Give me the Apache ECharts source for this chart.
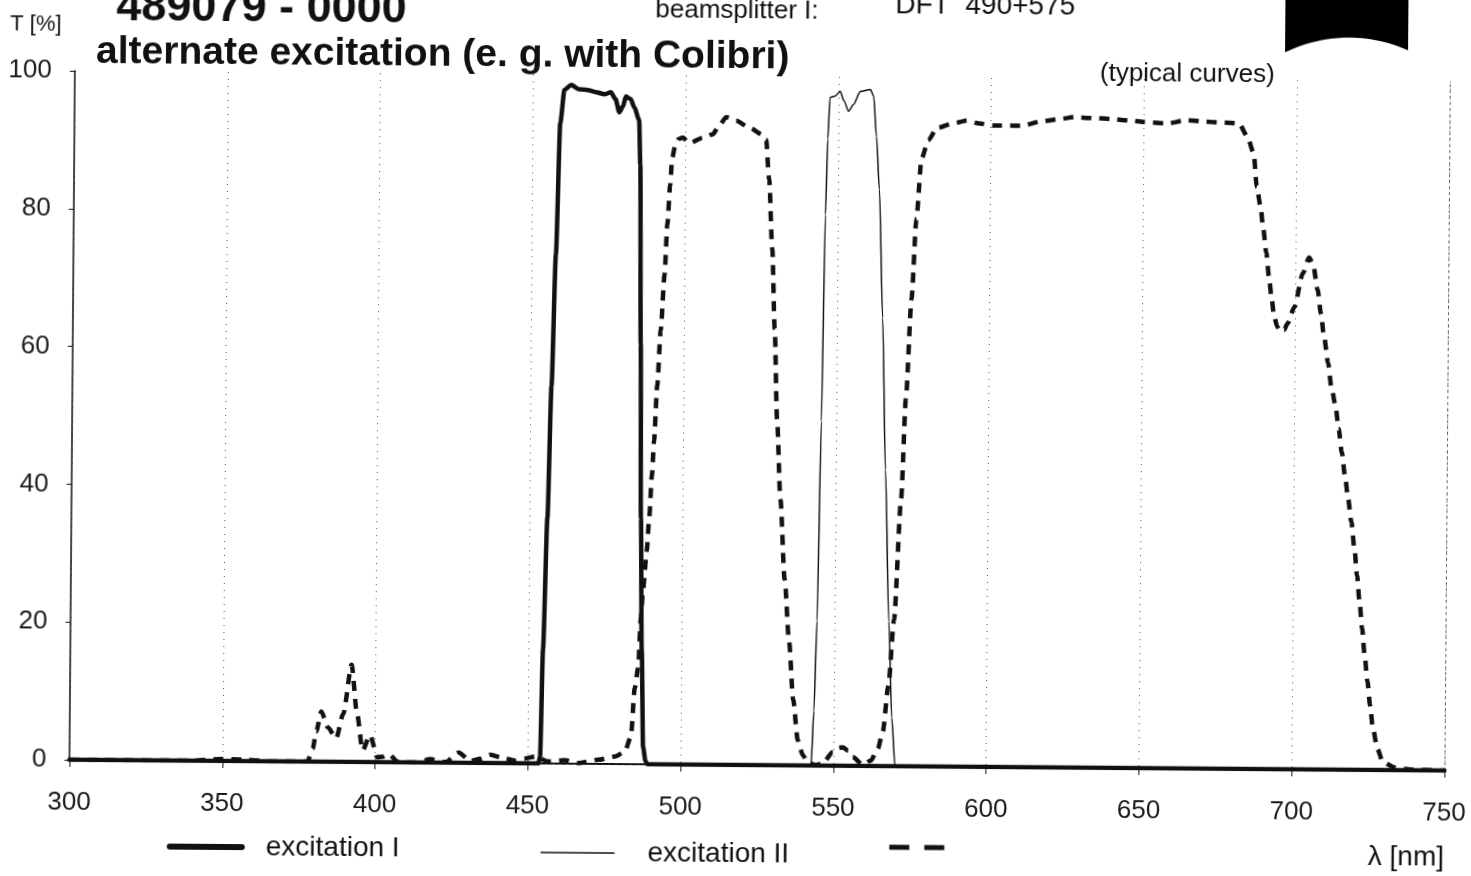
<!DOCTYPE html>
<html>
<head>
<meta charset="utf-8">
<script src="https://cdn.jsdelivr.net/npm/echarts@6/dist/echarts.min.js"></script>
<style>
  html, body { margin: 0; padding: 0; background: #fff; overflow: hidden; width: 1471px; height: 876px; position: relative; }
  #chart { position: absolute; left: -20px; top: -20px; width: 1511px; height: 916px; transform: rotate(0.45deg); transform-origin: 50% 50%; }
</style>
</head>
<body>
<div id="chart"></div>
<script>
// ---- data (wavelength in nm, transmission in %) ----
const ex1Wl = [300, 453.5, 454, 454.7, 455.8, 456.8, 457.9, 459, 460.3, 462.5, 465, 467.9, 470.5, 473.4, 475.5, 477, 478.3, 479.5, 480.4, 482, 483.2, 484.8, 485.3, 485.9, 486.4, 487, 487.7, 488.5, 489.1, 750];
const ex1T  = [0, 0, 1, 16.6, 35.7, 54.8, 73.9, 93, 97.8, 98.5, 97.9, 97.8, 97.5, 97.2, 97.5, 96.5, 94.6, 95.5, 96.9, 96.5, 95.3, 93.5, 87, 61, 35.7, 16.6, 2.5, 0.5, 0, 0];

const ex2Wl = [300, 542.7, 543.5, 544.3, 545.2, 546, 546.6, 547.2, 548.9, 550.5, 551.8, 553.3, 554.9, 557.1, 560.4, 561.5, 562.5, 563.6, 565, 566.3, 567.8, 569, 570.2, 750];
const ex2T  = [0, 0, 8, 21, 50, 80, 91, 97, 97.2, 97.9, 96.5, 95, 96, 97.9, 98.2, 97.2, 91.4, 83.7, 65, 43, 21, 7, 0, 0];

const emWl = [300, 340, 350, 358, 365, 377.9, 379.6, 380.7, 382.3, 384.5, 387.2, 389.5, 392.1, 394, 395.9, 398.3, 400.8, 402.5, 404.6, 407.3, 413.3, 418.2, 423, 427.4, 431.2, 434.5, 437.7, 441.5, 445.9, 449, 452.4, 456.7, 462.2, 466.5, 473, 478.5, 481.7, 483.7, 484.8, 485.9, 486.6, 487.3, 488.4, 489.1, 489.9, 490.5, 491.4, 492.4, 493.5, 494.3, 495.1, 495.7, 496.7, 497.8, 499.1, 501.3, 505.7, 508.9, 511, 513.3, 516.6, 520.9, 525.3, 526.4, 527.5, 528.7, 529.7, 530.7, 532, 533.6, 535.2, 536.7, 538.3, 540, 541.6, 544, 546.5, 549.8, 551.5, 553.1, 554.8, 556.3, 559.6, 562.3, 564.5, 566.1, 567.8, 569.5, 571.5, 572.8, 574.4, 575.8, 577.3, 579.5, 582.3, 587.8, 592.1, 596, 600.9, 609.6, 617.2, 622, 627.1, 633, 639.1, 645, 650, 657.6, 664.2, 670, 675.1, 681.1, 683.9, 686, 687.1, 688.4, 689.3, 690.4, 691.3, 692.3, 693.1, 694.2, 695.3, 696.4, 697.5, 699.7, 702.4, 704.4, 705.7, 707.3, 708.4, 709.5, 710.9, 712, 713.4, 714.5, 715.6, 716.7, 717.8, 718.9, 720, 720.9, 721.8, 722.7, 723.6, 724.6, 725.5, 726.5, 728, 729.8, 733.6, 739, 750];
const emT  = [0, 0, 0.3, 0.2, 0, 0, 1.9, 4.4, 7.3, 5, 3.4, 7, 14.1, 7, 1.7, 3.9, 0.7, 0.8, 1.2, 0.1, 0, 0.5, 0.1, 1.5, 0.3, 0.6, 1.2, 0.8, 0.4, 0.7, 1.0, 0.3, 0.5, 0.1, 0.6, 1.1, 1.8, 4, 11, 14, 21, 25.5, 31, 35.7, 42, 47, 55, 63, 71, 78.4, 84, 88, 89.9, 90.8, 91, 90.2, 91, 91.5, 92.8, 94, 93.5, 92.5, 91.5, 90.8, 85, 74.9, 63.3, 50.2, 38.6, 27, 18, 9.5, 3.7, 1.5, 0.5, 0.1, 0.3, 2, 2.6, 2.7, 2.2, 1.3, 0.2, 0.8, 2.5, 5, 11.6, 21.3, 38.8, 53.3, 67.9, 79.5, 88.2, 90.9, 92.7, 93.4, 93.8, 93.4, 93.1, 93.1, 93.8, 94.1, 94.4, 94.3, 94.2, 94, 93.8, 93.6, 94.1, 93.9, 93.8, 93.7, 91.8, 89.4, 84.5, 81.6, 78.5, 74.9, 71.5, 68.1, 65.7, 64.2, 63.5, 63.8, 64.7, 67.1, 72, 74.3, 73.4, 69.6, 66.2, 62.8, 59, 55.6, 52.9, 49.5, 46.1, 42.7, 39.3, 36, 32.1, 28.2, 24.4, 20.5, 16.6, 12.8, 9.4, 6, 3.1, 1.2, 0.4, 0.1, 0];

const seriesNames = ['excitation I', 'excitation II', 'emission'];
const xRange = [300, 750];
const yRange = [0, 100];

const zip = (a, b) => a.map((v, i) => [v, b[i]]);
const FONT = '"Liberation Sans", Arial, sans-serif';
const INK = '#111';
const O = 20; // canvas is 20px larger on each side than the page (rotation margin)

// black corner logo: rectangle with a concave lower edge
function logoPoints() {
  const pts = [[1282 + O, -40 + O], [1405 + O, -40 + O]];
  const p0 = [1405 + O, 45 + O], c = [1343 + O, 19 + O], p1 = [1282 + O, 48 + O];
  for (let i = 0; i <= 24; i++) {
    const t = i / 24, u = 1 - t;
    pts.push([u * u * p0[0] + 2 * u * t * c[0] + t * t * p1[0], u * u * p0[1] + 2 * u * t * c[1] + t * t * p1[1]]);
  }
  return pts;
}
const txt = (s, x, y, font) => ({ type: 'text', x: x + O, y: y + O, style: { text: s, font: font + ' ' + FONT, fill: INK } });

const chart = echarts.init(document.getElementById('chart'), null, { renderer: 'canvas' });
chart.setOption({
  animation: false,
  backgroundColor: '#fff',
  grid: { left: 72 + O, right: 24 + O, top: 76 + O, bottom: 111 + O, containLabel: false },
  xAxis: [{
    type: 'value', min: xRange[0], max: xRange[1], interval: 50, position: 'bottom',
    axisLine: { show: true, onZero: false, lineStyle: { color: INK, width: 2 } },
    axisTick: { show: true, inside: false, length: 7, lineStyle: { color: INK, width: 1 } },
    axisLabel: { color: '#1a1a1a', fontSize: 26, fontFamily: FONT, margin: 30 },
    splitLine: { show: true, lineStyle: { color: '#555', width: 1, type: [1, 6] } }
  }, {
    type: 'value', min: xRange[0], max: xRange[1], interval: 50, position: 'top',
    axisLine: { show: true, lineStyle: { color: '#555', width: 1, type: [2, 5] } },
    axisTick: { show: false }, axisLabel: { show: false }, splitLine: { show: false }
  }],
  yAxis: [{
    type: 'value', min: yRange[0], max: yRange[1], interval: 20,
    axisLine: { show: true, lineStyle: { color: INK, width: 1.5 } },
    axisTick: { show: true, inside: false, length: 5, lineStyle: { color: INK } },
    axisLabel: { color: '#1a1a1a', fontSize: 26, fontFamily: FONT, margin: 23 },
    splitLine: { show: false }
  }, {
    type: 'value', min: yRange[0], max: yRange[1], interval: 20, position: 'right',
    axisLine: { show: true, lineStyle: { color: '#555', width: 1, type: [2, 4] } },
    axisTick: { show: false }, axisLabel: { show: false }, splitLine: { show: false }
  }],
  legend: [{
    data: [seriesNames[0]], left: 165 + O, top: 832 + O, itemWidth: 72, itemHeight: 12,
    lineStyle: { width: 6 }, itemStyle: { opacity: 0 },
    textStyle: { fontSize: 28, fontFamily: FONT, color: INK, padding: [0, 0, 0, 19] }
  }, {
    data: [seriesNames[1]], left: 538 + O, top: 835 + O, itemWidth: 74, itemHeight: 12,
    lineStyle: { width: 1.5 }, itemStyle: { opacity: 0 },
    textStyle: { fontSize: 28, fontFamily: FONT, color: INK, padding: [0, 0, 0, 28] }
  }, {
    data: [seriesNames[2]], left: 885 + O, top: 835 + O, itemWidth: 55, itemHeight: 12,
    lineStyle: { width: 5, type: [20, 15] }, itemStyle: { opacity: 0 },
    formatter: () => '',
    textStyle: { fontSize: 28, fontFamily: FONT, color: INK }
  }],
  graphic: [
    txt('489079 - 0000', 113, -10, 'bold 45px'),
    txt('T [%]', 7, 19, '22px'),
    txt('alternate excitation (e. g. with Colibri)', 93, 38, 'bold 39px'),
    txt('beamsplitter I:', 652, -2, '26px'),
    txt('DFT  490+575', 892, -10, '28px'),
    txt('(typical curves)', 1097, 58, '26px'),
    txt('λ [nm]', 1371, 838, '28px'),
    { type: 'polygon', shape: { points: logoPoints() }, style: { fill: '#000' } }
  ],
  series: [{
    name: seriesNames[0], type: 'line', data: zip(ex1Wl, ex1T), showSymbol: false, symbol: 'none',
    smooth: 0.25, smoothMonotone: 'x', z: 3,
    lineStyle: { color: INK, width: 4.5, join: 'round', cap: 'round' }, itemStyle: { color: INK }
  }, {
    name: seriesNames[1], type: 'line', data: zip(ex2Wl, ex2T), showSymbol: false, symbol: 'none',
    smooth: 0.25, smoothMonotone: 'x', z: 4,
    lineStyle: { color: INK, width: 1.5 }, itemStyle: { color: INK }
  }, {
    name: seriesNames[2], type: 'line', data: zip(emWl, emT), showSymbol: false, symbol: 'none',
    smooth: 0.25, smoothMonotone: 'x', z: 2,
    lineStyle: { color: INK, width: 4.5, type: [10, 8], cap: 'butt' }, itemStyle: { color: INK }
  }]
});
</script>
</body>
</html>
